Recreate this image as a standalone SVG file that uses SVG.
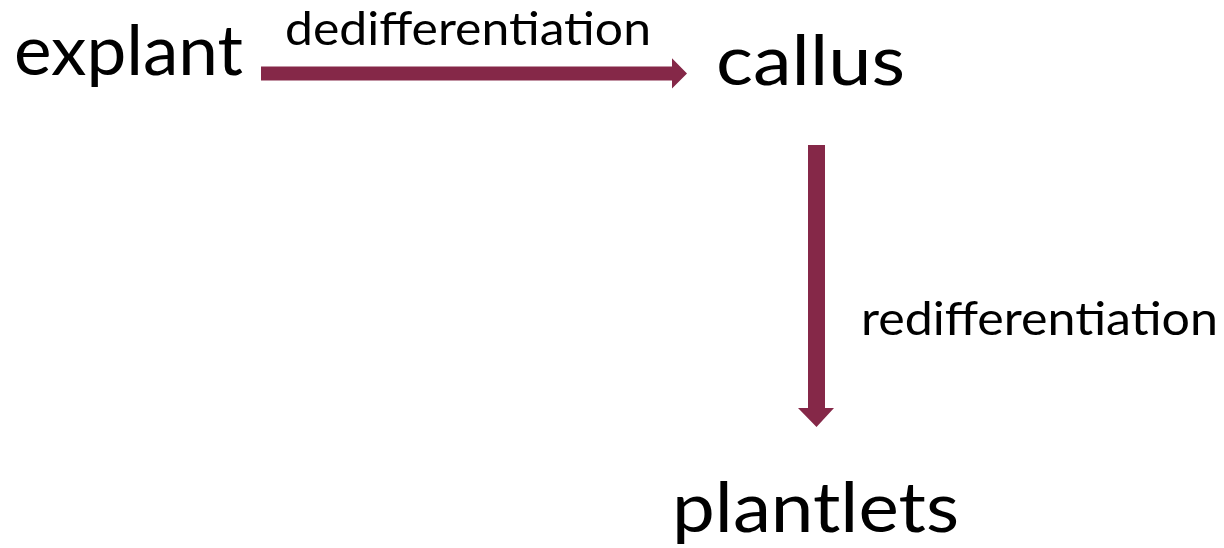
<svg xmlns="http://www.w3.org/2000/svg" width="1224" height="548" viewBox="0 0 1224 548">
  <style>
    .big { font-family: Lato, "Noto Sans", "DejaVu Sans", sans-serif; font-size: 70px; fill: #000; }
    .lbl { font-family: Lato, "Noto Sans", "DejaVu Sans", sans-serif; font-size: 47px; fill: #000; }
    .arrow { fill: #852848; stroke: none; }
  </style>
  <rect width="1224" height="548" fill="#ffffff"/>
  <g id="connectors">
    <g id="edge-explant-callus">
      <polygon class="arrow" points="261,66.5 672,66.5 672,58.3 687,73.5 672,88.5 672,80.5 261,80.5"/>
      <text class="lbl" x="285" y="45" textLength="366" lengthAdjust="spacingAndGlyphs">dedifferentiation</text>
    </g>
    <g id="edge-callus-plantlets">
      <polygon class="arrow" points="808,145 825,145 825,408 834,408 816.5,427 798,408 808,408"/>
      <text class="lbl" x="861" y="335" textLength="357" lengthAdjust="spacingAndGlyphs">redifferentiation</text>
    </g>
  </g>
  <g id="node-explant">
    <text class="big" x="14" y="75" textLength="229" lengthAdjust="spacingAndGlyphs">explant</text>
  </g>
  <g id="node-callus">
    <text class="big" x="716" y="85" textLength="189" lengthAdjust="spacingAndGlyphs">callus</text>
  </g>
  <g id="node-plantlets">
    <text class="big" x="672" y="532" textLength="287" lengthAdjust="spacingAndGlyphs">plantlets</text>
  </g>
</svg>
